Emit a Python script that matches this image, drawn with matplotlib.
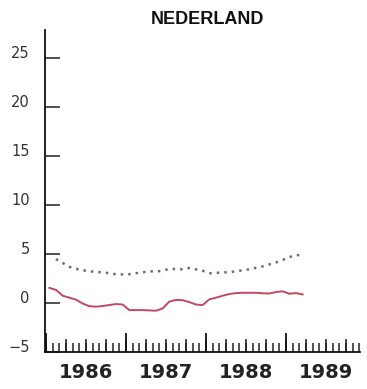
import numpy as np
import pandas as pd
import matplotlib
matplotlib.use('Agg')
import matplotlib.pyplot as plt
from matplotlib.ticker import MultipleLocator, FixedLocator, FuncFormatter, NullFormatter

# data (monthly, mid-month)
title = 'NEDERLAND'
red_start = '1986-01'
red_vals = [1.55, 1.35, 0.75, 0.55, 0.35, -0.05, -0.32, -0.37, -0.3, -0.2, -0.1, -0.15,
            -0.72, -0.72, -0.72, -0.75, -0.78, -0.55, 0.15, 0.32, 0.3, 0.1, -0.15, -0.2,
            0.38, 0.55, 0.75, 0.92, 1.02, 1.05, 1.05, 1.05, 1.0, 0.98, 1.12, 1.2,
            0.95, 1.02, 0.88]
dot_start = '1986-02'
dot_vals = [4.5, 4.1, 3.7, 3.5, 3.35, 3.25, 3.18, 3.13, 3.05, 2.93, 2.93,
            2.95, 3.05, 3.15, 3.25, 3.22, 3.3, 3.5, 3.48, 3.45, 3.58, 3.45, 3.3,
            3.05, 3.08, 3.13, 3.15, 3.25, 3.35, 3.45, 3.6, 3.75, 3.95, 4.15, 4.4, 4.7,
            4.9, 4.9]
y_ticks = [-5, 0, 5, 10, 15, 20, 25]
years = [1986, 1987, 1988, 1989]


def dec_year(start, n):
    d = pd.date_range(start, periods=n, freq='MS')
    return d.year + (d.month - 0.5) / 12


red_t = dec_year(red_start, len(red_vals))
dot_t = dec_year(dot_start, len(dot_vals))

fig = plt.figure(figsize=(3.67, 3.89), dpi=100)
fig.patch.set_facecolor('white')
ax = fig.add_axes([45 / 367, 37 / 389, 315 / 367, 322 / 389])

ax.plot(dot_t, dot_vals, color='#6e6e6e', lw=1.8, linestyle=(0, (1, 2)))
ax.plot(red_t, red_vals, color='#c24862', lw=1.4)

ax.set_xlim(1986 - 1 / 80, 1986 + 314 / 80)
ax.set_ylim(-5, 27.9)

for s in ['top', 'right']:
    ax.spines[s].set_visible(False)
for s in ['left', 'bottom']:
    ax.spines[s].set_linewidth(1.3)
    ax.spines[s].set_color('#111111')

# y axis
ax.yaxis.set_major_locator(FixedLocator(y_ticks))
ax.tick_params(axis='y', direction='in', length=10.8, width=1.1, pad=11,
               labelsize=10.5, labelcolor='#333333', color='#222222')
for lbl in ax.get_yticklabels():
    lbl.set_verticalalignment('baseline')

# x axis: years tall, months short, year label in the middle of each year
ax.xaxis.set_major_locator(MultipleLocator(1))
ax.xaxis.set_major_formatter(NullFormatter())
ax.xaxis.set_minor_locator(MultipleLocator(1 / 12))
ax.xaxis.set_minor_formatter(FuncFormatter(
    lambda x, p: str(int(np.floor(x))) if abs(x % 1 - 0.5) < 0.01 and int(np.floor(x)) in years else ''))
ax.tick_params(axis='x', which='major', direction='in', length=13.7, width=1.3, color='#111111')
ax.tick_params(axis='x', which='minor', direction='in', length=6.5, width=1.1, color='#222222',
               pad=8, labelsize=14, labelcolor='#222222')
for lbl in ax.get_xticklabels(minor=True):
    lbl.set_fontweight('bold')

# quarter ticks, medium height
sec = ax.secondary_xaxis('bottom')
sec.xaxis.set_major_locator(MultipleLocator(0.25))
sec.xaxis.set_major_formatter(NullFormatter())
sec.tick_params(direction='in', length=9.4, width=1.2, color='#222222')
sec.spines['bottom'].set_visible(False)

fig.text(207 / 367, 1 - 20 / 389, title, ha='center', va='center',
         fontsize=13, fontweight='bold', family='Liberation Sans', color='#111111')

fig.savefig('out.png', dpi=100)
